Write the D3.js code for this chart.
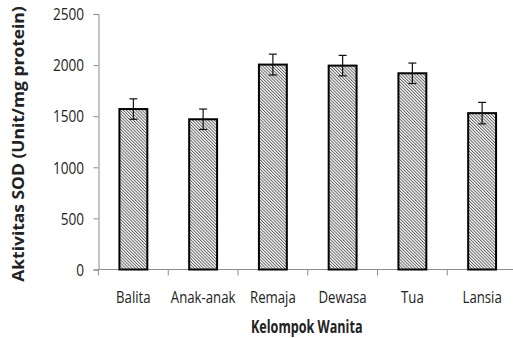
<!DOCTYPE html>
<html>
<head>
<meta charset="utf-8">
<script src="https://cdn.jsdelivr.net/npm/d3@7"></script>
<style>
  html, body { margin: 0; padding: 0; background: #fff; }
  svg { display: block; }
  text { font-family: "Open Sans", sans-serif; fill: #222; }
</style>
</head>
<body>
<script>
// SOD activity by women's age group
const categories = ["Balita", "Anak-anak", "Remaja", "Dewasa", "Tua", "Lansia"];
const sodValues = [1570, 1470, 2005, 1995, 1920, 1530];
const sodErrors = [100, 100, 102, 100, 100, 105];
const yTicks = [0, 500, 1000, 1500, 2000, 2500];

const W = 513, H = 338;
const plot = { left: 98.5, right: 517, top: 14, bottom: 269.5 };

const svg = d3.select("body").append("svg")
  .attr("width", W).attr("height", H);

// diagonal hatch fill for the bars
const defs = svg.append("defs");
const pat = defs.append("pattern")
  .attr("id", "hatch")
  .attr("patternUnits", "userSpaceOnUse")
  .attr("width", 2.2).attr("height", 8)
  .attr("patternTransform", "rotate(-45)");
pat.append("rect").attr("width", 2.2).attr("height", 8).attr("fill", "#fff");
pat.append("line")
  .attr("x1", 0.5).attr("y1", 0).attr("x2", 0.5).attr("y2", 8)
  .attr("stroke", "#555").attr("stroke-width", 0.9);

const x = d3.scaleBand()
  .domain(categories)
  .range([plot.left, plot.right])
  .paddingInner(0.6)
  .paddingOuter(0.3);

const y = d3.scaleLinear()
  .domain([0, 2500])
  .range([plot.bottom, plot.top]);

const axisColor = "#8c8c8c";

// y axis
const yAxis = svg.append("g")
  .attr("transform", `translate(${plot.left},0)`)
  .call(d3.axisLeft(y).tickValues(yTicks).tickSize(5).tickPadding(0).tickFormat(d3.format("d")));
yAxis.select(".domain").attr("stroke", axisColor);
yAxis.selectAll(".tick line").attr("stroke", axisColor);
yAxis.selectAll(".tick text")
  .attr("x", null).attr("dy", "0.36em")
  .attr("transform", "translate(-14.5,0) scale(0.85,1)")
  .style("font-size", "16px")
  .style("font-family", "'Open Sans', sans-serif")
  .attr("fill", "#222");

// x axis line with ticks at category boundaries
const xAxisG = svg.append("g");
xAxisG.append("line")
  .attr("x1", plot.left).attr("x2", W)
  .attr("y1", plot.bottom).attr("y2", plot.bottom)
  .attr("stroke", axisColor);
const step = x.step();
const bounds = d3.range(categories.length + 1).map(i => x(categories[0]) - (step - x.bandwidth()) / 2 + i * step);
xAxisG.selectAll("line.xt").data(bounds).join("line")
  .attr("class", "xt")
  .attr("x1", d => d).attr("x2", d => d)
  .attr("y1", plot.bottom).attr("y2", plot.bottom + 6)
  .attr("stroke", axisColor);

xAxisG.selectAll("text.cat").data(categories).join("text")
  .attr("class", "cat")
  .attr("transform", d => `translate(${x(d) + x.bandwidth() / 2},302.5) scale(0.8,1)`)
  .attr("text-anchor", "middle")
  .style("font-size", "16.5px")
  .text(d => d);

// bars
const data = categories.map((c, i) => ({ c, v: sodValues[i], e: sodErrors[i] }));
svg.append("g").selectAll("rect").data(data).join("rect")
  .attr("x", d => x(d.c))
  .attr("y", d => y(d.v))
  .attr("width", x.bandwidth())
  .attr("height", d => y(0) - y(d.v))
  .attr("fill", "url(#hatch)")
  .attr("stroke", "#000")
  .attr("stroke-width", 2);

// error bars
const eb = svg.append("g").attr("stroke", "#111").attr("stroke-width", 1.2);
const capHalf = 4;
data.forEach(d => {
  const cx = x(d.c) + x.bandwidth() / 2;
  eb.append("line").attr("x1", cx).attr("x2", cx).attr("y1", y(d.v + d.e)).attr("y2", y(d.v - d.e));
  eb.append("line").attr("x1", cx - capHalf).attr("x2", cx + capHalf).attr("y1", y(d.v + d.e)).attr("y2", y(d.v + d.e));
  eb.append("line").attr("x1", cx - capHalf).attr("x2", cx + capHalf).attr("y1", y(d.v - d.e)).attr("y2", y(d.v - d.e));
});

// axis titles
svg.append("text")
  .attr("transform", `translate(${(plot.left + plot.right) / 2 - 1},333) scale(0.7,1)`)
  .attr("text-anchor", "middle")
  .style("font-size", "18px")
  .style("font-weight", "700")
  .attr("fill", "#111")
  .text("Kelompok Wanita");

svg.append("text")
  .attr("transform", "translate(23.5,144) rotate(-90) scale(1.09,1)")
  .attr("text-anchor", "middle")
  .style("font-size", "16px")
  .style("font-weight", "700")
  .attr("fill", "#111")
  .text("Aktivitas SOD (Unit/mg protein)");
</script>
</body>
</html>
